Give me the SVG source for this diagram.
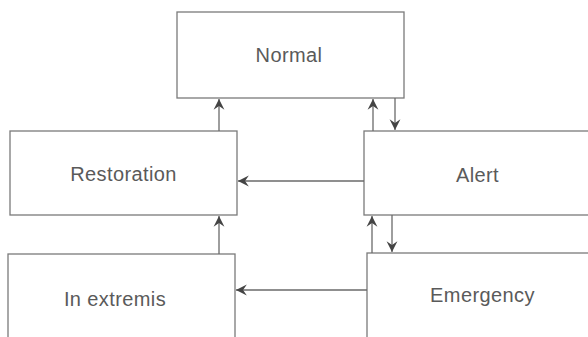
<svg xmlns="http://www.w3.org/2000/svg" width="588" height="337" viewBox="0 0 588 337">
<style>
.box{fill:#fff;stroke:#7a7a7a;stroke-width:1.3}
.lbl{font-family:"Liberation Sans",Arial,sans-serif;font-size:20px;letter-spacing:0.4px;fill:#5a5a5a;text-anchor:middle}
.c{stroke:#6a6a6a;stroke-width:1.3;fill:none;marker-end:url(#ah)}
</style>
<defs>
<marker id="ah" viewBox="0 0 12 12" refX="11" refY="6" markerWidth="13" markerHeight="13" markerUnits="userSpaceOnUse" orient="auto">
<path d="M11,6 L1,1 L4.5,6 L1,11 Z" fill="#444"/>
</marker>
</defs>
<rect width="588" height="337" fill="#fff"/>
<g id="normal"><rect class="box" x="177" y="12" width="227" height="86"/><text class="lbl" x="289" y="62">Normal</text></g>
<g id="restoration"><rect class="box" x="10" y="131" width="227" height="84"/><text class="lbl" x="123.5" y="181">Restoration</text></g>
<g id="alert"><rect class="box" x="364" y="131" width="240" height="84"/><text class="lbl" x="477.5" y="182">Alert</text></g>
<g id="inextremis"><rect class="box" x="8" y="254" width="227" height="100"/><text class="lbl" x="115" y="306">In extremis</text></g>
<g id="emergency"><rect class="box" x="367" y="253" width="240" height="100"/><text class="lbl" x="482.5" y="302">Emergency</text></g>
<g id="connectors">
<line class="c" x1="219" y1="131" x2="219" y2="99"/>
<line class="c" x1="373" y1="131" x2="373" y2="99"/>
<line class="c" x1="395" y1="98" x2="395" y2="130"/>
<line class="c" x1="364" y1="181" x2="238" y2="181"/>
<line class="c" x1="219" y1="254" x2="219" y2="216"/>
<line class="c" x1="372" y1="253" x2="372" y2="216"/>
<line class="c" x1="392" y1="215" x2="392" y2="252"/>
<line class="c" x1="367" y1="290" x2="236" y2="290"/>
</g>
</svg>
